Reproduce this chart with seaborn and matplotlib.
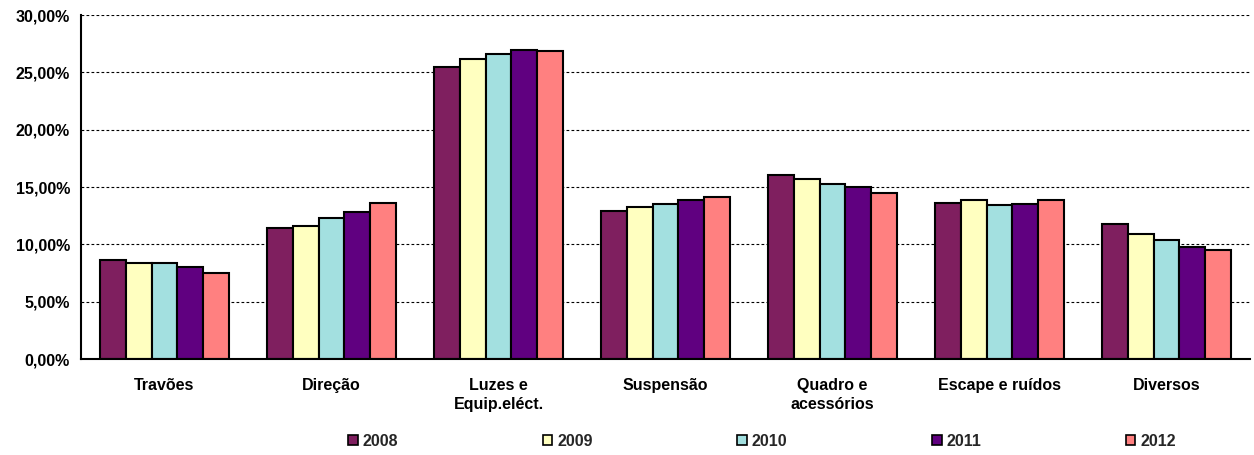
import matplotlib
matplotlib.use("Agg")
import matplotlib.pyplot as plt
import seaborn as sns
import pandas as pd
from matplotlib.ticker import FuncFormatter, MultipleLocator, FixedLocator

categories = ["Travões", "Direção", "Luzes e\nEquip.eléct.", "Suspensão",
              "Quadro e\nacessórios", "Escape e ruídos", "Diversos"]
years = ["2008", "2009", "2010", "2011", "2012"]
v2008 = [8.63, 11.42, 25.49, 12.94, 16.08, 13.60, 11.80]
v2009 = [8.34, 11.60, 26.19, 13.26, 15.70, 13.84, 10.93]
v2010 = [8.40, 12.27, 26.60, 13.55, 15.29, 13.46, 10.41]
v2011 = [7.99, 12.85, 26.95, 13.87, 14.97, 13.52, 9.77]
v2012 = [7.47, 13.58, 26.83, 14.16, 14.51, 13.87, 9.53]
colors = ["#7F1F5F", "#FFFFC0", "#A3E0E0", "#600080", "#FF8080"]

series = [v2008, v2009, v2010, v2011, v2012]
rows = []
for y, vals in zip(years, series):
    for c, v in zip(categories, vals):
        rows.append({"cat": c, "year": y, "val": v})
df = pd.DataFrame(rows)

sns.set_style("white")
plt.rcParams["font.family"] = ["Liberation Sans", "DejaVu Sans"]
FS = 11.5

fig = plt.figure(figsize=(12.54, 4.55), dpi=100)
ax = fig.add_axes([81/1254, 1 - 359/455, (1250-81)/1254, (359-15)/455])

sns.barplot(data=df, x="cat", y="val", hue="year", order=categories,
            hue_order=years, palette=colors, width=0.77, ax=ax,
            edgecolor="black", linewidth=1.5, errorbar=None, legend=True,
            saturation=1)

ax.set_ylim(0, 30)
ax.set_xlim(-0.5, len(categories) - 0.5)
ax.yaxis.set_major_locator(MultipleLocator(5))
ax.yaxis.set_major_formatter(FuncFormatter(lambda v, p: f"{v:.2f}".replace(".", ",") + "%"))
ax.yaxis.grid(True, linestyle=(0, (2.5, 2)), color="black", linewidth=0.8)
ax.set_axisbelow(True)
for s in ["top", "right"]:
    ax.spines[s].set_visible(False)
for s in ["left", "bottom"]:
    ax.spines[s].set_linewidth(1.5)
    ax.spines[s].set_color("black")
ax.set_xlabel("")
ax.set_ylabel("")
ax.tick_params(axis="x", which="major", length=0, pad=14)
ax.xaxis.set_minor_locator(FixedLocator([i + 0.5 for i in range(-1, len(categories))]))
ax.tick_params(axis="x", which="minor", length=5, width=1.5, direction="out", color="black")
ax.tick_params(axis="y", which="major", length=5, width=1.5, direction="out", color="black", pad=3)
for lab in ax.get_xticklabels() + ax.get_yticklabels():
    lab.set_fontweight("bold")
    lab.set_fontsize(FS)
    lab.set_color("black")
    lab.set_linespacing(1.3)

ax.get_legend().remove()
handles, labels = ax.get_legend_handles_labels()
leg = fig.legend(handles[:5], labels[:5], loc="center", bbox_to_anchor=(762/1254, 1 - 441/455),
                 ncol=5, frameon=False, handlelength=0.6, handleheight=0.6,
                 handletextpad=0.3, columnspacing=9.06, prop={"weight": "bold", "size": FS})
for h in leg.legend_handles:
    h.set_edgecolor("black")
    h.set_linewidth(1.2)

fig.savefig("out.png", dpi=100)
